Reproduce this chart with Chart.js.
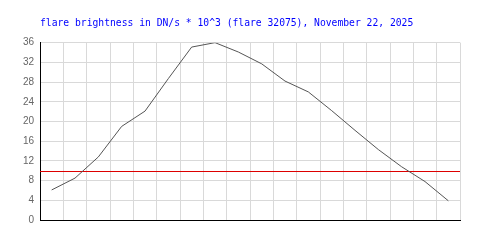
<!DOCTYPE html>
<html>
<head>
<meta charset="utf-8">
<script src="https://cdn.jsdelivr.net/npm/chart.js@4/dist/chart.umd.min.js"></script>
<style>
  html, body { margin: 0; padding: 0; background: #fff; }
  #wrap { width: 500px; height: 250px; }
</style>
</head>
<body>
<div id="wrap"><canvas id="c"></canvas></div>
<script>
// sample index along the flare, one per point
var samples = ['1','2','3','4','5','6','7','8','9','10','11','12','13','14','15','16','17','18'];
// brightness in DN/s * 10^3
var brightness = [6.1, 8.5, 12.8, 19.0, 22.1, 28.7, 35.1, 36.0, 34.1, 31.7, 28.2, 26.0, 22.2, 18.2, 14.3, 10.8, 7.8, 3.9];
// reference level, drawn across the whole plot
var thresholdLevel = 10;

var titleText = 'flare brightness in DN/s * 10^3 (flare 32075), November 22, 2025';

// horizontal reference line spanning the full chart area
var thresholdLine = {
  id: 'thresholdLine',
  beforeDatasetsDraw: function(chart){
    var ctx = chart.ctx, area = chart.chartArea;
    var y = Math.round(chart.scales.y.getPixelForValue(thresholdLevel)) + 0.5;
    ctx.save();
    ctx.strokeStyle = '#dd0000';
    ctx.lineWidth = 1;
    ctx.beginPath();
    ctx.moveTo(area.left, y);
    ctx.lineTo(area.right, y);
    ctx.stroke();
    ctx.restore();
  }
};

new Chart(document.getElementById('c'), {
  type: 'line',
  data: {
    labels: samples,
    datasets: [
      {
        data: brightness,
        borderColor: '#555555',
        borderWidth: 1,
        pointRadius: 0,
        tension: 0,
        fill: false
      }
    ]
  },
  plugins: [thresholdLine],
  options: {
    responsive: true,
    maintainAspectRatio: false,
    animation: false,
    events: [],
    layout: {
      padding: { left: 0, right: 40, top: 0, bottom: 30 }
    },
    plugins: {
      legend: { display: false },
      tooltip: { enabled: false },
      title: {
        display: true,
        text: titleText,
        align: 'start',
        fullSize: false,
        color: '#0000ff',
        font: { family: 'DejaVu Sans Mono', size: 9.7, weight: 'normal' },
        padding: { top: 18, bottom: 13 }
      }
    },
    scales: {
      x: {
        offset: true,
        grid: { offset: true, color: '#d9d9d9', drawTicks: false },
        border: { color: '#000000', width: 1 },
        ticks: { display: false },
        afterFit: function(scale){ scale.height = 0; }
      },
      y: {
        min: 0,
        max: 36,
        grid: { color: '#d9d9d9', drawTicks: false },
        border: { color: '#000000', width: 1 },
        ticks: {
          stepSize: 4,
          padding: 6,
          color: '#666666',
          font: { family: 'Liberation Sans', size: 10 }
        },
        afterFit: function(scale){ scale.width = 40; }
      }
    }
  }
});
</script>
</body>
</html>
